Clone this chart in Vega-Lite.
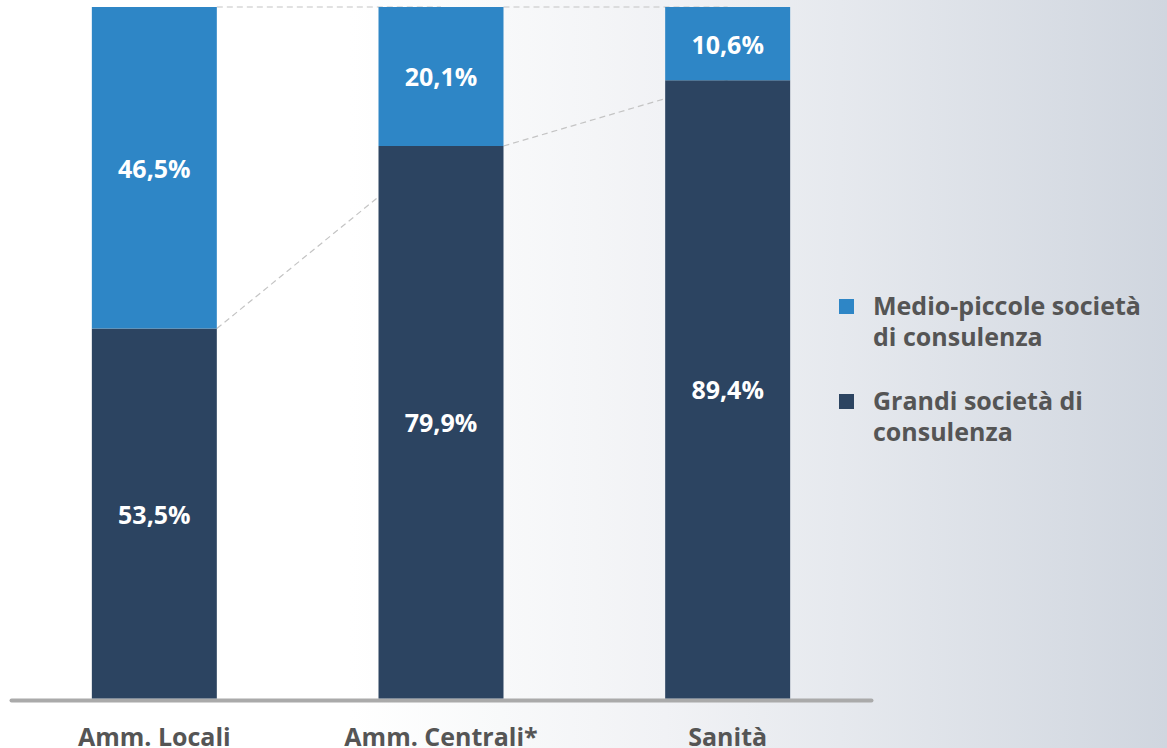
{
  "$schema": "https://vega.github.io/schema/vega-lite/v6.json",
  "width": 1167,
  "height": 748,
  "autosize": "none",
  "padding": 0,
  "background": "#ffffff",
  "config": {
    "font": "Open Sans",
    "style": {"guide-label": {"lineHeight": 31}},
    "view": {
      "stroke": null,
      "fill": {
        "gradient": "linear",
        "x1": 0, "y1": 0, "x2": 1, "y2": 0,
        "stops": [
          {"offset": 0, "color": "#ffffff"},
          {"offset": 0.3, "color": "#ffffff"},
          {"offset": 0.43, "color": "#f8f9fa"},
          {"offset": 0.57, "color": "#f1f2f5"},
          {"offset": 0.72, "color": "#e6e9ee"},
          {"offset": 1, "color": "#d0d6df"}
        ]
      }
    }
  },
  "datasets": {
    "bars": [
      {"cat": "Amm. Locali", "group": "Grandi società di consulenza", "value": 53.5},
      {"cat": "Amm. Locali", "group": "Medio-piccole società di consulenza", "value": 46.5},
      {"cat": "Amm. Centrali*", "group": "Grandi società di consulenza", "value": 79.9},
      {"cat": "Amm. Centrali*", "group": "Medio-piccole società di consulenza", "value": 20.1},
      {"cat": "Sanità", "group": "Grandi società di consulenza", "value": 89.4},
      {"cat": "Sanità", "group": "Medio-piccole società di consulenza", "value": 10.6}
    ],
    "links": [
      {"from": "Amm. Locali", "to": "Amm. Centrali*", "y1": 53.5, "y2": 79.9},
      {"from": "Amm. Locali", "to": "Amm. Centrali*", "y1": 100, "y2": 100},
      {"from": "Amm. Centrali*", "to": "Sanità", "y1": 79.9, "y2": 89.4},
      {"from": "Amm. Centrali*", "to": "Sanità", "y1": 100, "y2": 100}
    ]
  },
  "layer": [
    {
      "data": {"name": "links"},
      "mark": {"type": "rule", "stroke": "#c4c4c4", "strokeWidth": 1.2, "strokeDash": [6, 4]},
      "encoding": {
        "x": {
          "field": "from", "type": "nominal", "bandPosition": 1, "title": null,
          "axis": {"orient": "bottom", "bandPosition": 0.5, "labelAngle": 0, "ticks": false, "offset": -48, "domainColor": "#aaaaaa", "domainWidth": 4, "domainCap": "round", "labelFont": "Open Sans", "labelFontWeight": "bold", "labelFontSize": 25, "labelColor": "#555555", "labelPadding": 25, "labelLimit": 400}
        },
        "x2": {"field": "to"},
        "y": {"field": "y1", "type": "quantitative", "axis": null},
        "y2": {"field": "y2"}
      }
    },
    {
      "data": {"name": "bars"},
      "mark": {"type": "bar"},
      "encoding": {
        "x": {
          "field": "cat",
          "type": "nominal",
          "title": null,
          "scale": {
            "domain": ["Amm. Locali", "Amm. Centrali*", "Sanità"],
            "range": [11, 871],
            "paddingInner": 0.564,
            "paddingOuter": 0.282
          },
          "axis": {"orient": "bottom", "bandPosition": 0.5, "labelAngle": 0, "ticks": false, "offset": -48, "domainColor": "#aaaaaa", "domainWidth": 4, "domainCap": "round", "labelFont": "Open Sans", "labelFontWeight": "bold", "labelFontSize": 25, "labelColor": "#555555", "labelPadding": 25, "labelLimit": 400}
        },
        "y": {
          "field": "value",
          "type": "quantitative",
          "stack": "zero",
          "scale": {"domain": [0, 100], "range": [698.5, 7], "nice": false},
          "axis": null
        },
        "order": {"field": "group", "type": "nominal", "sort": "ascending"},
        "color": {
          "field": "group",
          "type": "nominal",
          "scale": {
            "domain": ["Medio-piccole società di consulenza", "Grandi società di consulenza"],
            "range": ["#2e86c6", "#2c4461"]
          },
          "legend": {
            "title": null,
            "orient": "none",
            "legendX": 834,
            "legendY": 294,
            "padding": 0,
            "symbolType": "square",
            "symbolSize": 225,
            "symbolStrokeWidth": 0,
            "labelFont": "Open Sans",
            "labelFontSize": 25,
            "labelFontWeight": "bold",
            "labelColor": "#555555",
            "labelOffset": 14,
            "labelLimit": 400,
            "labelBaseline": "middle",
            "rowPadding": 38,
            "labelExpr": "datum.label == 'Grandi società di consulenza' ? ['Grandi società di', 'consulenza'] : ['Medio-piccole società', 'di consulenza']"
          }
        }
      }
    },
    {
      "data": {"name": "bars"},
      "transform": [
        {"calculate": "replace(format(datum.value, '.1f'), '.', ',') + '%'", "as": "label"}
      ],
      "mark": {"type": "text", "color": "#ffffff", "font": "Open Sans", "fontWeight": "bold", "fontSize": 25, "baseline": "middle", "dy": 2},
      "encoding": {
        "x": {
          "field": "cat", "type": "nominal", "title": null,
          "axis": {"orient": "bottom", "bandPosition": 0.5, "labelAngle": 0, "ticks": false, "offset": -48, "domainColor": "#aaaaaa", "domainWidth": 4, "domainCap": "round", "labelFont": "Open Sans", "labelFontWeight": "bold", "labelFontSize": 25, "labelColor": "#555555", "labelPadding": 25, "labelLimit": 400}
        },
        "y": {"field": "value", "type": "quantitative", "stack": "zero", "bandPosition": 0.5, "axis": null},
        "order": {"field": "group", "type": "nominal", "sort": "ascending"},
        "detail": {"field": "group", "type": "nominal"},
        "text": {"field": "label", "type": "nominal"}
      }
    }
  ]
}
